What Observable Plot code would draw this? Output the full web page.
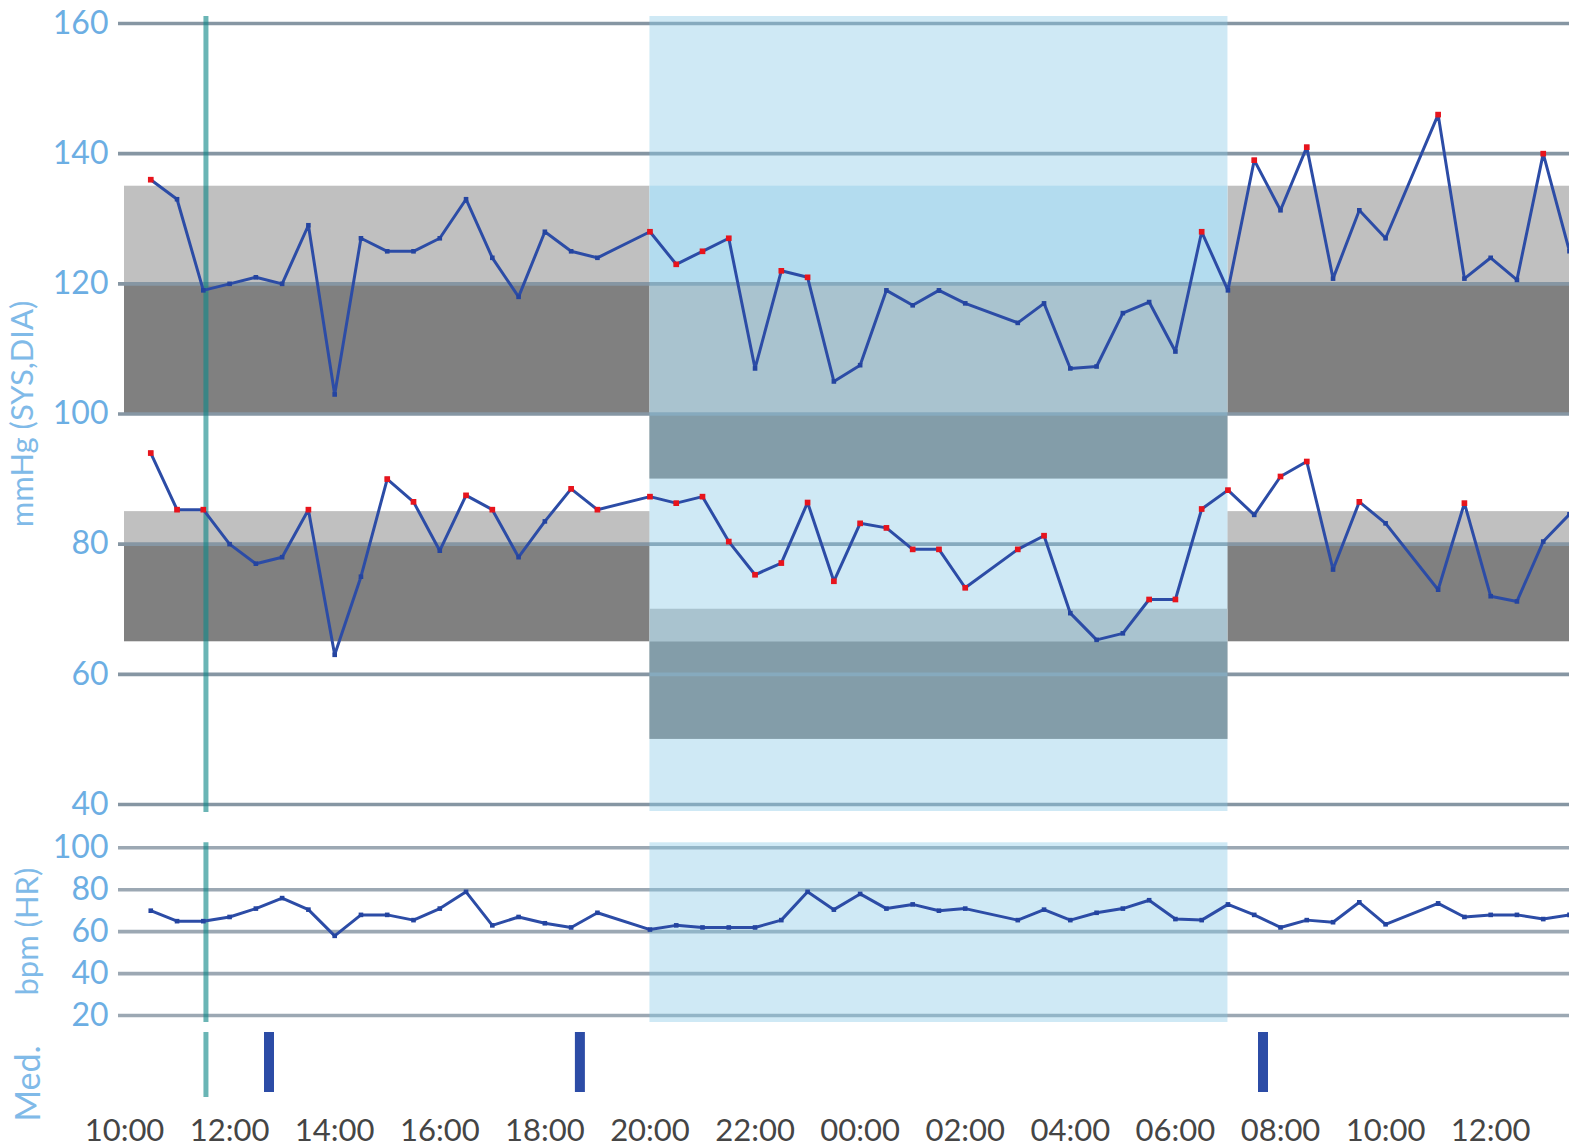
<!DOCTYPE html>
<html>
<head>
<meta charset="utf-8">
<script src="https://cdn.jsdelivr.net/npm/d3@7"></script>
<script src="https://cdn.jsdelivr.net/npm/@observablehq/plot@0.6"></script>
<style>
html, body { margin: 0; padding: 0; background: #fff; overflow: hidden; }
#wrap { position: relative; width: 1569px; height: 1148px; overflow: hidden; background: #fff; }
#wrap svg { position: absolute; left: 0; max-width: none !important; overflow: visible; background: transparent !important; }
</style>
</head>
<body>
<div id="wrap"></div>
<script>
// ---------- data ----------
const times = ["10:30","11:00","11:30","12:00","12:30","13:00","13:30","14:00","14:30","15:00","15:30","16:00","16:30","17:00","17:30","18:00","18:30","19:00",
  "20:00","20:30","21:00","21:30","22:00","22:30","23:00","23:30","00:00","00:30","01:00","01:30","02:00",
  "03:00","03:30","04:00","04:30","05:00","05:30","06:00","06:30","07:00","07:30","08:00","08:30","09:00","09:30","10:00",
  "11:00","11:30","12:00","12:30","13:00","13:30"];
const systolic = [136,133,119,120,121,120,129,103,127,125,125,127,133,124,118,128,125,124,
  128,123,125,127,107,122,121,105,107.5,119,116.7,119,117,
  114,117,107,107.3,115.5,117.2,109.6,128,119,139,131.3,141,120.8,131.3,127,
  146,120.8,124,120.6,140,125];
const diastolic = [94,85.3,85.3,80,77,78,85.3,63,75,90,86.5,79,87.5,85.3,78,83.5,88.5,85.3,
  87.3,86.3,87.3,80.4,75.3,77.1,86.4,74.3,83.2,82.5,79.2,79.2,73.3,
  79.2,81.3,69.4,65.3,66.3,71.5,71.5,85.4,88.3,84.5,90.4,92.7,76.1,86.5,83.2,
  73,86.3,72,71.2,80.4,84.6];
const heartRate = [70,65,65,67,71,76,70.5,58,68,68,65.5,71,79,63,67,64,62,69,
  61,63,62,62,62,65.5,79,70.5,78,71,73,70,71,
  65.5,70.5,65.5,69,71,75,66,65.5,73,68,62,65.5,64.5,74,63.5,
  73.5,67,68,68,66,68];
const medicationTimes = ["12:45","18:40","07:40"];
const eventTimes = ["11:33"];
const nightPeriod = ["20:00","07:00"];
const dayPeriods = [["10:00","20:00"],["07:00","13:30"]];
const xDomainLabels = [[0,"10:00"],[1,"13:30"]];
const xTickLabels = ["10:00","12:00","14:00","16:00","18:00","20:00","22:00","00:00","02:00","04:00","06:00","08:00","10:00","12:00"];
const bpTicks = [40,60,80,100,120,140,160];
const hrTicks = [20,40,60,80,100];
// target bands: [series, low, high, tone]
const dayBands = [["SYS",120,135,"light"],["SYS",100,120,"dark"],["DIA",80,85,"light"],["DIA",65,80,"dark"]];
const nightBands = [["SYS",120,135,"pale"],["SYS",100,120,"light"],["SYS",90,100,"dark"],["DIA",65,70,"light"],["DIA",50,65,"dark"]];
const dayLimits = {SYS: 135, DIA: 85};
const nightLimits = {SYS: 120, DIA: 70};

// ---------- helpers ----------
const BASE = Date.UTC(2024, 0, 1);
function at(day, label) { const [h, m] = label.split(":").map(Number); return new Date(BASE + day * 864e5 + (h * 60 + m) * 6e4); }
function seq(labels) {
  let day = 0, prev = -1;
  return labels.map(s => { const [h, m] = s.split(":").map(Number); const mins = h * 60 + m; if (mins < prev) day++; prev = mins; return at(day, s); });
}
const T = seq(times);
const [nightStart, nightEnd] = seq(nightPeriod);
const isNight = d => d >= nightStart && d <= nightEnd;
const dayDates = seq(dayPeriods.flat());
const dayRanges = dayPeriods.map((p, i) => ({x1: dayDates[2 * i], x2: dayDates[2 * i + 1]}));
const xDomain = xDomainLabels.map(([d, l]) => at(d, l));
const xTicks = seq(xTickLabels);
const medDates = seq(medicationTimes);
const eventDates = seq(eventTimes);

const toneColor = {light: "#c0c0c0", dark: "#808080", pale: "#d0e9f5"};
const dayRects = dayRanges.flatMap(r => dayBands.map(([s, lo, hi, tone]) => ({...r, lo, hi, fill: toneColor[tone]})));
const nightRects = nightBands.map(([s, lo, hi, tone]) => ({x1: nightStart, x2: nightEnd, lo, hi, fill: toneColor[tone]}));

const bp = [];
times.forEach((t, i) => {
  const n = isNight(T[i]);
  bp.push({t: T[i], v: systolic[i], series: "SYS", flag: systolic[i] >= (n ? nightLimits : dayLimits).SYS});
  bp.push({t: T[i], v: diastolic[i], series: "DIA", flag: diastolic[i] >= (n ? nightLimits : dayLimits).DIA});
});
const hr = times.map((t, i) => ({t: T[i], v: heartRate[i]}));

// ---------- styles ----------
const W = 1569;
const LEFT = 124;
const lineColor = "#2c4ca6";
const dotColor = "#2444a0";
const flagColor = "#e8141c";
const gridBP = "#8696a3";
const gridHR = "#9ca8b3";
const tickColor = "#6caee3";
const titleColor = "#80bae8";
const xLabelColor = "#454545";
const overlay = "rgb(135,200,230)";
const teal = "rgb(15,135,135)";
const font = "Lato, 'Open Sans', sans-serif";

const wrap = document.getElementById("wrap");
function place(svg, top) { svg.style.top = top + "px"; wrap.appendChild(svg); }

// ---------- main BP panel ----------
const main = Plot.plot({
  width: W, height: 812, marginLeft: LEFT, marginRight: 0, marginTop: 23, marginBottom: 8,
  x: {type: "utc", domain: xDomain, axis: null},
  y: {domain: [40, 160]},
  color: {type: "identity"},
  style: {fontFamily: font, background: "transparent", overflow: "visible"},
  marks: [
    Plot.rect(dayRects, {x1: "x1", x2: "x2", y1: "lo", y2: "hi", fill: "fill"}),
    Plot.rect(nightRects, {x1: "x1", x2: "x2", y1: "lo", y2: "hi", fill: "fill"}),
    Plot.ruleY(bpTicks, {stroke: gridBP, strokeWidth: 3.6, insetLeft: -6}),
    Plot.rect([{x1: nightStart, x2: nightEnd}], {x1: "x1", x2: "x2", fill: overlay, fillOpacity: 0.4, insetTop: -7, insetBottom: -7}),
    Plot.ruleX(eventDates, {stroke: teal, strokeOpacity: 0.62, strokeWidth: 5, insetTop: -7, insetBottom: -8}),
    Plot.line(bp, {x: "t", y: "v", z: "series", stroke: lineColor, strokeWidth: 3}),
    Plot.dot(bp, {x: "t", y: "v", symbol: "square", r: 2.6, fill: dotColor}),
    Plot.dot(bp.filter(d => d.flag), {x: "t", y: "v", symbol: "square", r: 3.2, fill: flagColor}),
    Plot.axisY(bpTicks, {anchor: "left", tickSize: 0, tickPadding: 16, fontSize: 32, fill: tickColor, label: null}),
    Plot.axisY([], {anchor: "left", tickSize: 0, fontSize: 31, fill: titleColor, label: "mmHg (SYS,DIA)", labelAnchor: "center", labelOffset: 114, labelArrow: "none"})
  ]
});
place(main, 0);

// ---------- heart-rate panel ----------
const hrPlot = Plot.plot({
  width: W, height: 214, marginLeft: LEFT, marginRight: 0, marginTop: 35.3, marginBottom: 11,
  x: {type: "utc", domain: xDomain, axis: null},
  y: {domain: [20, 100]},
  style: {fontFamily: font, background: "transparent", overflow: "visible"},
  marks: [
    Plot.ruleY(hrTicks, {stroke: gridHR, strokeWidth: 3.6, insetLeft: -6}),
    Plot.rect([{x1: nightStart, x2: nightEnd}], {x1: "x1", x2: "x2", fill: overlay, fillOpacity: 0.4, insetTop: -5, insetBottom: -7}),
    Plot.ruleX(eventDates, {stroke: teal, strokeOpacity: 0.62, strokeWidth: 5, insetTop: -5, insetBottom: -7}),
    Plot.line(hr, {x: "t", y: "v", stroke: lineColor, strokeWidth: 3}),
    Plot.dot(hr, {x: "t", y: "v", symbol: "square", r: 2.6, fill: dotColor}),
    Plot.axisY(hrTicks, {anchor: "left", tickSize: 0, tickPadding: 16, fontSize: 32, fill: tickColor, label: null}),
    Plot.axisY([], {anchor: "left", tickSize: 0, fontSize: 31, fill: titleColor, label: "bpm (HR)", labelAnchor: "center", labelOffset: 109, labelArrow: "none"})
  ]
});
place(hrPlot, 812);

// ---------- medication panel + time axis ----------
const medPlot = Plot.plot({
  width: W, height: 122, marginLeft: LEFT, marginRight: 0, marginTop: 6, marginBottom: 14,
  x: {type: "utc", domain: xDomain},
  y: {domain: [-0.7, 1]},
  style: {fontFamily: font, background: "transparent", overflow: "visible"},
  marks: [
    Plot.ruleX(eventDates, {y1: 1, y2: 0, stroke: teal, strokeOpacity: 0.62, strokeWidth: 5, insetBottom: -5}),
    Plot.ruleX(medDates, {y1: 0, y2: 1, stroke: lineColor, strokeWidth: 10}),
    Plot.axisX(xTicks, {anchor: "bottom", tickSize: 0, tickPadding: -16, fontSize: 31, fill: xLabelColor, tickFormat: d3.utcFormat("%H:%M"), label: null}),
    Plot.axisY([], {anchor: "left", tickSize: 0, fontSize: 34, fill: titleColor, label: "Med.", labelAnchor: "center", labelOffset: 109, labelArrow: "none"})
  ]
});
place(medPlot, 1026);
</script>
</body>
</html>
